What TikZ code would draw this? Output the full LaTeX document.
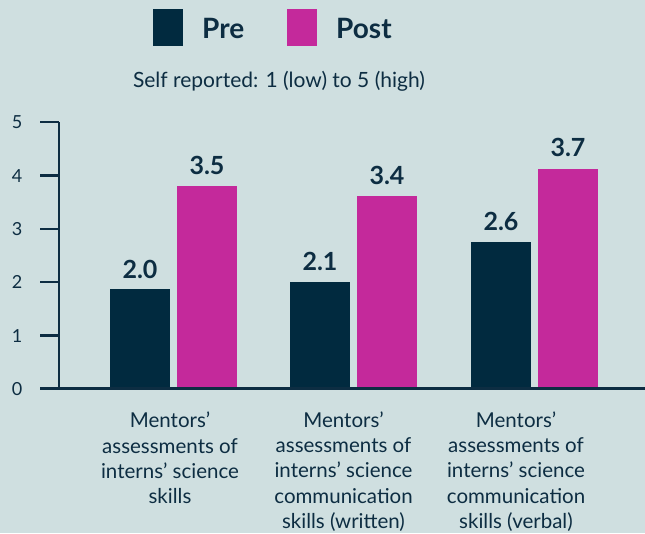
\documentclass[tikz,border=0pt]{standalone}
\usepackage{fontspec}
\setmainfont{Lato}
\definecolor{bg}{HTML}{CFDFE0}
\definecolor{pre}{HTML}{012A3F}
\definecolor{post}{HTML}{C4299B}
\definecolor{ink}{HTML}{0D2D42}
\tikzset{
  prebar/.style={fill=pre},
  postbar/.style={fill=post},
  axisline/.style={draw=ink,line width=2.6pt},
  val/.style={text=ink,inner sep=0pt,anchor=base,font=\bfseries\fontsize{25}{25}\selectfont},
  ylab/.style={text=ink,inner sep=0pt,anchor=base,font=\fontsize{18}{18}\selectfont},
  cat/.style={text=ink,inner sep=0pt,anchor=base,align=center,font=\fontsize{20.5}{25.2}\selectfont},
  leg/.style={text=ink,inner sep=0pt,anchor=base west,font=\bfseries\fontsize{28}{28}\selectfont},
}
\begin{document}
\begin{tikzpicture}[x=1pt,y=-1pt]
\fill[bg] (0,0) rectangle (645,533);
\useasboundingbox (0,0) rectangle (645,533);
% legend
\fill[prebar] (153,9) rectangle (183,46);
\fill[postbar] (287,9) rectangle (317,46);
\node[leg] (lpre) at (202,38.5) {Pre};
\node[leg] (lpost) at (336,38.5) {Post};
\node[text=ink,inner sep=0pt,anchor=base,font=\fontsize{21}{21}\selectfont] (sub) at (279,87.5) {Self reported: 1 (low) to 5 (high)};
% bars
\fill[prebar] (110,388.7) rectangle (170,289);
\fill[postbar] (177,388.7) rectangle (237,186);
\fill[prebar] (290,388.7) rectangle (350,282);
\fill[postbar] (357,388.7) rectangle (417,196);
\fill[prebar] (471,388.7) rectangle (531,242);
\fill[postbar] (538,388.7) rectangle (598,169);
% values
\node[val] (v1) at (140,278.3) {2.0};
\node[val] (v2) at (207,174) {3.5};
\node[val] (v3) at (320,270) {2.1};
\node[val] (v4) at (387,184) {3.4};
\node[val] (v5) at (501,230) {2.6};
\node[val] (v6) at (568,156.7) {3.7};
% axis
\draw[axisline] (59,122) -- (59,388.7);
\draw[axisline] (40,388.7) -- (645,388.7);
\foreach \v/\y in {0/388.7,1/335.4,2/282.1,3/228.8,4/175.5,5/122}{
  \draw[axisline] (40,\y) -- (59,\y);
  \node[ylab] (y\v) at (17,\y+6.6) {\v};
}
% categories (base = last line baseline)
\node[cat] (c1) at (170,503.5) {Mentors’\\assessments of\\interns’ science\\skills};
\node[cat] (c2) at (343.5,528.2) {Mentors’\\assessments of\\interns’ science\\communication\\skills (written)};
\node[cat] (c3) at (516,528.2) {Mentors’\\assessments of\\interns’ science\\communication\\skills (verbal)};
\end{tikzpicture}
\end{document}
